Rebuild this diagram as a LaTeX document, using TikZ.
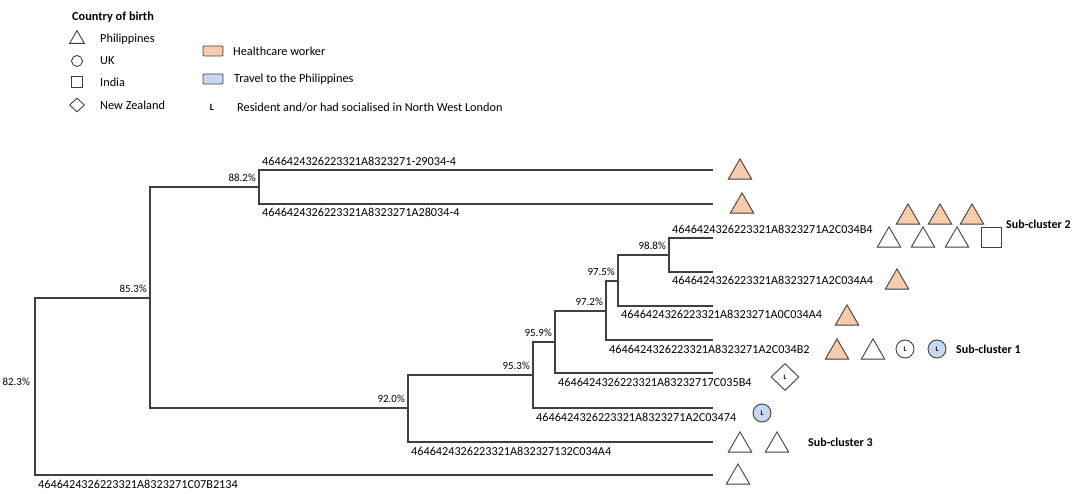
\documentclass[tikz,border=0pt]{standalone}
\usepackage{fontspec}
\setmainfont{Carlito}
\usetikzlibrary{shapes.geometric,positioning}

\definecolor{hcwfill}{HTML}{F8CBAD}
\definecolor{trvfill}{HTML}{C6D9F0}
\definecolor{lineclr}{HTML}{404040}

\tikzset{
  branch/.style={draw=lineclr, line width=1.1pt},
  symb/.style={draw=lineclr, line width=0.9pt, inner sep=0pt, font=\fontsize{7}{8}\selectfont\bfseries},
  tri/.style={symb, regular polygon, regular polygon sides=3, minimum size=27pt, yshift=-3.4pt},
  hcwtri/.style={tri, fill=hcwfill},
  ring/.style={symb, circle, minimum size=18pt},
  trvring/.style={ring, fill=trvfill},
  sq/.style={symb, rectangle, minimum size=20pt},
  dia/.style={symb, diamond, minimum width=28pt, minimum height=27pt},
  seqname/.style={font=\fontsize{12.2}{14}\selectfont, inner sep=0pt, anchor=base west, xshift=3pt},
  sequp/.style={seqname, yshift=4.5pt},
  seqdn/.style={seqname, yshift=-13pt},
  pct/.style={font=\fontsize{10.9}{12}\selectfont, inner sep=0pt, anchor=base east, xshift=-3pt, yshift=5.5pt},
  cluster/.style={font=\fontsize{12}{14}\selectfont\bfseries, inner sep=0pt, anchor=west},
  legtext/.style={font=\fontsize{12.3}{14}\selectfont, inner sep=0pt, anchor=west},
  legbox/.style={draw=lineclr, line width=0.8pt, minimum width=20pt, minimum height=10pt, inner sep=0pt, rounded corners=1pt},
}

\begin{document}
\begin{tikzpicture}[x=1pt,y=-1pt]
\useasboundingbox (0,0) rectangle (1082,494);

% Legend
\node[legtext, font=\fontsize{12.3}{14}\selectfont\bfseries] (legtitle) at (72,17) {Country of birth};
\node[symb, regular polygon, regular polygon sides=3, minimum size=17pt, yshift=-2.1pt] (lgtri) at (77,37) {};
\node[symb, circle, minimum size=11pt] (lgcirc) at (77,61) {};
\node[symb, rectangle, minimum size=11pt] (lgsq) at (77,82) {};
\node[symb, diamond, minimum width=15pt, minimum height=14pt] (lgdia) at (77,105) {};
\node[legtext] (lgphil) at (100,39) {Philippines};
\node[legtext] (lguk) at (100,61) {UK};
\node[legtext] (lgind) at (100,82) {India};
\node[legtext] (lgnz) at (100,105) {New Zealand};

\node[legbox, fill=hcwfill] (lghcw) at (213,51) {};
\node[legbox, fill=trvfill] (lgtrv) at (213,79) {};
\node[font=\fontsize{9.5}{10}\selectfont\bfseries, inner sep=0pt] (lgres) at (212,107) {L};
\node[legtext] (lghcwt) at (233,51) {Healthcare worker};
\node[legtext] (lgtrvt) at (234,79) {Travel to the Philippines};
\node[legtext] (lgrest) at (237,107) {Resident and/or had socialised in North West London};

% Internal nodes of the tree
\coordinate (r823) at (35,386);
\coordinate (n853) at (150,298);
\coordinate (n882) at (259,187);
\coordinate (n920) at (408,408);
\coordinate (n953) at (533,375);
\coordinate (n959) at (555,342);
\coordinate (n972) at (606,311);
\coordinate (n975) at (618,281);
\coordinate (n988) at (669,255);
% Leaf ends
\foreach \name/\y in {lf1/170, lf2/204, lf3/238, lf4/272, lf5/306, lf6/340, lf7/373, lf8/408, lf9/442, lf10/475}
  \coordinate (\name) at (713,\y);

% Branches
\foreach \a/\b in {r823/n853, r823/lf10, n853/n882, n853/n920, n882/lf1, n882/lf2,
                   n920/n953, n920/lf9, n953/n959, n953/lf8, n959/n972, n959/lf7,
                   n972/n975, n972/lf6, n975/n988, n975/lf5, n988/lf3, n988/lf4}
  \draw[branch] (\a) |- (\b);

% Support values
\node[pct, anchor=east, xshift=-2pt, yshift=-1pt] (p823) at (r823) {82.3\%};
\node[pct] (p853) at (n853) {85.3\%};
\node[pct] (p882) at (n882) {88.2\%};
\node[pct] (p920) at (n920) {92.0\%};
\node[pct] (p953) at (n953) {95.3\%};
\node[pct] (p959) at (n959) {95.9\%};
\node[pct] (p972) at (n972) {97.2\%};
\node[pct] (p975) at (n975) {97.5\%};
\node[pct] (p988) at (n988) {98.8\%};

% Sequence names
\node[sequp] (t1) at (n882 |- lf1) {4646424326223321A8323271-29034-4};
\node[seqdn] (t2) at (n882 |- lf2) {4646424326223321A8323271A28034-4};
\node[sequp] (t3) at (n988 |- lf3) {4646424326223321A8323271A2C034B4};
\node[seqdn] (t4) at (n988 |- lf4) {4646424326223321A8323271A2C034A4};
\node[seqdn] (t5) at (n975 |- lf5) {4646424326223321A8323271A0C034A4};
\node[seqdn] (t6) at (n972 |- lf6) {4646424326223321A8323271A2C034B2};
\node[seqdn] (t7) at (n959 |- lf7) {4646424326223321A83232717C035B4};
\node[seqdn] (t8) at (n953 |- lf8) {4646424326223321A8323271A2C03474};
\node[seqdn] (t9) at (n920 |- lf9) {4646424326223321A832327132C034A4};
\node[seqdn] (t10) at (r823 |- lf10) {4646424326223321A8323271C07B2134};

% Symbols per case
\node[hcwtri] (c1) at (740,169) {};
\node[hcwtri] (c2) at (742,203) {};
\foreach \x [count=\i] in {908,940,972} \node[hcwtri] (sc2h\i) at (\x,214) {};
\foreach \x [count=\i] in {889,923,957} \node[tri] (sc2p\i) at (\x,237) {};
\node[sq] (sc2in) at (991,237) {};
\node[hcwtri] (c4) at (897,279) {};
\node[hcwtri] (c5) at (847,315) {};
\node[hcwtri] (sc1a) at (837,349) {};
\node[tri] (sc1b) at (873,349) {};
\node[ring] (sc1c) at (905,349) {L};
\node[trvring] (sc1d) at (937,349) {L};
\node[dia] (c7) at (785,377) {L};
\node[trvring] (c8) at (762,413) {L};
\node[tri] (sc3a) at (740,442) {};
\node[tri] (sc3b) at (777,442) {};
\node[tri] (c10) at (738,474) {};

% Sub-cluster labels
\node[cluster] (lsc2) at (1006,224) {Sub-cluster 2};
\node[cluster] (lsc1) at (956,349) {Sub-cluster 1};
\node[cluster] (lsc3) at (808,442) {Sub-cluster 3};
\end{tikzpicture}
\end{document}
